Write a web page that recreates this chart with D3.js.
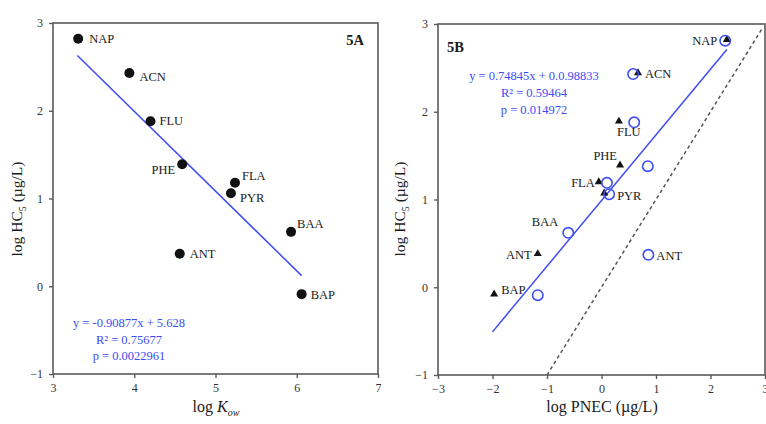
<!DOCTYPE html>
<html>
<head>
<meta charset="utf-8">
<script src="https://cdn.jsdelivr.net/npm/d3@7"></script>
<style>
  html, body { margin: 0; padding: 0; background: #fff; }
  svg { display: block; font-family: "Liberation Serif", "DejaVu Serif", serif; }
</style>
</head>
<body>
<div id="chart"></div>
<script>
// Panel 5A: log Kow vs log HC5
const namesA = ["NAP", "ACN", "FLU", "PHE", "FLA", "PYR", "BAA", "ANT", "BAP"];
const kowA   = [3.31, 3.94, 4.20, 4.59, 5.24, 5.19, 5.93, 4.56, 6.06];
const hc5A   = [2.82, 2.43, 1.88, 1.39, 1.18, 1.06, 0.62, 0.37, -0.09];
const fitA = { slope: -0.90877, intercept: 5.628, x0: 3.3, x1: 6.06 };
const eqA = ["y = -0.90877x + 5.628", "R² = 0.75677", "p = 0.0022961"];

// Panel 5B: log PNEC vs log HC5 (triangle hidden for BAA -> null)
const namesB  = ["NAP", "ACN", "FLU", "PHE", "FLA", "PYR", "BAA", "ANT", "BAP"];
const hc5B    = [2.81, 2.43, 1.88, 1.38, 1.19, 1.06, 0.62, 0.37, -0.09];
const triX    = [2.30, 0.67, 0.32, 0.34, -0.05, 0.05, null, -1.17, -1.97];
const circX   = [2.27, 0.58, 0.60, 0.85, 0.10, 0.14, -0.61, 0.86, -1.17];
const fitB = { slope: 0.74845, intercept: 0.98833, x0: -2.0, x1: 2.3 };
const eqB = ["y = 0.74845x + 0.0.98833", "R² = 0.59464", "p = 0.014972"];

const ticksA_x = [3, 4, 5, 6, 7];
const ticksB_x = [-3, -2, -1, 0, 1, 2, 3];
const ticksY = [-1, 0, 1, 2, 3];

const width = 766, height = 424;
const blue = "#3d4cf5";
const frameColor = "#5a5a5a";
const ink = "#1a1a1a";

const svg = d3.select("#chart").append("svg")
  .attr("width", width)
  .attr("height", height);

function panel(box, xDomain, xTicks) {
  const x = d3.scaleLinear().domain(xDomain).range([box.left, box.right]);
  const y = d3.scaleLinear().domain([-1, 3]).range([box.bottom, box.top]);
  const g = svg.append("g");

  g.append("rect")
    .attr("x", box.left).attr("y", box.top)
    .attr("width", box.right - box.left).attr("height", box.bottom - box.top)
    .attr("fill", "none").attr("stroke", frameColor).attr("stroke-width", 1.6);

  const ax = g.append("g")
    .attr("transform", `translate(0,${box.bottom})`)
    .call(d3.axisBottom(x).tickValues(xTicks).tickSize(4).tickPadding(5).tickFormat(d3.format("d")));
  const ay = g.append("g")
    .attr("transform", `translate(${box.left},0)`)
    .call(d3.axisLeft(y).tickValues(ticksY).tickSize(4).tickPadding(6).tickFormat(d3.format("d")));
  [ax, ay].forEach(a => {
    a.select(".domain").remove();
    a.selectAll("line").attr("stroke", frameColor).attr("stroke-width", 1.4);
    a.selectAll("text").attr("font-family", "Liberation Serif").attr("font-size", 12).attr("fill", "#333");
  });
  return { x, y, g };
}

// ---------- Panel A ----------
const A = panel({ left: 53, right: 378, top: 23, bottom: 374 }, [3, 7], ticksA_x);

A.g.append("line")
  .attr("x1", A.x(fitA.x0)).attr("y1", A.y(fitA.slope * fitA.x0 + fitA.intercept))
  .attr("x2", A.x(fitA.x1)).attr("y2", A.y(fitA.slope * fitA.x1 + fitA.intercept))
  .attr("stroke", blue).attr("stroke-width", 1.5);

A.g.selectAll("circle.pt")
  .data(namesA)
  .join("circle")
    .attr("class", "pt")
    .attr("cx", (d, i) => A.x(kowA[i]))
    .attr("cy", (d, i) => A.y(hc5A[i]))
    .attr("r", 5)
    .attr("fill", "#111");

// label offsets for panel A
const offA = {
  NAP: [11, 4, "start"], ACN: [10, 8, "start"], FLU: [9, 4, "start"],
  PHE: [-7, 10, "end"], FLA: [7, -3, "start"], PYR: [9, 9, "start"],
  BAA: [6, -4, "start"], ANT: [10, 4, "start"], BAP: [9, 5, "start"]
};
A.g.selectAll("text.lbl")
  .data(namesA)
  .join("text")
    .attr("class", "lbl")
    .attr("x", (d, i) => A.x(kowA[i]) + offA[d][0])
    .attr("y", (d, i) => A.y(hc5A[i]) + offA[d][1])
    .attr("text-anchor", d => offA[d][2])
    .attr("font-size", 12.5)
    .attr("fill", ink)
    .text(d => d);

A.g.append("text")
  .attr("x", 364).attr("y", 45).attr("text-anchor", "end")
  .attr("font-size", 14.5).attr("font-weight", "bold").attr("fill", ink)
  .text("5A");

A.g.selectAll("text.eq")
  .data(eqA)
  .join("text")
    .attr("class", "eq")
    .attr("x", 129)
    .attr("y", (d, i) => 327 + i * 16.5)
    .attr("text-anchor", "middle")
    .attr("font-size", 12.5)
    .attr("fill", blue)
    .text(d => d);

// axis titles A
svg.append("text")
  .attr("transform", "translate(22,209) rotate(-90)")
  .attr("text-anchor", "middle").attr("font-size", 15.5).attr("fill", ink)
  .call(t => {
    t.append("tspan").text("log HC");
    t.append("tspan").attr("font-size", 10).attr("dy", 4).text("5");
    t.append("tspan").attr("dy", -4).text(" (µg/L)");
  });
svg.append("text")
  .attr("x", 216).attr("y", 412)
  .attr("text-anchor", "middle").attr("font-size", 16).attr("fill", ink)
  .call(t => {
    t.append("tspan").text("log  ");
    t.append("tspan").attr("font-style", "italic").text("K");
    t.append("tspan").attr("font-style", "italic").attr("font-size", 10).attr("dy", 4).text("ow");
  });

// ---------- Panel B ----------
const B = panel({ left: 438, right: 765, top: 24, bottom: 375 }, [-3, 3], ticksB_x);

// 1:1 dashed line
B.g.append("line")
  .attr("x1", B.x(-1)).attr("y1", B.y(-1))
  .attr("x2", B.x(2.95)).attr("y2", B.y(2.95))
  .attr("stroke", "#555").attr("stroke-width", 1.5)
  .attr("stroke-dasharray", "3.5,3");

B.g.append("line")
  .attr("x1", B.x(fitB.x0)).attr("y1", B.y(fitB.slope * fitB.x0 + fitB.intercept))
  .attr("x2", B.x(fitB.x1)).attr("y2", B.y(fitB.slope * fitB.x1 + fitB.intercept))
  .attr("stroke", blue).attr("stroke-width", 1.5);

const triData = namesB.map((n, i) => ({ x: triX[i], y: hc5B[i] })).filter(d => d.x !== null);
B.g.selectAll("path.tri")
  .data(triData)
  .join("path")
    .attr("class", "tri")
    .attr("d", d3.symbol(d3.symbolTriangle, 28))
    .attr("transform", d => `translate(${B.x(d.x)},${B.y(d.y) - 1})`)
    .attr("fill", "#111");

B.g.selectAll("circle.pt")
  .data(namesB)
  .join("circle")
    .attr("class", "pt")
    .attr("cx", (d, i) => B.x(circX[i]))
    .attr("cy", (d, i) => B.y(hc5B[i]))
    .attr("r", 5.2)
    .attr("fill", "none")
    .attr("stroke", blue)
    .attr("stroke-width", 1.6);

// labels for panel B: [name, xValue, dx, dy, anchor]
const lblB = [
  ["NAP", 2.27, -8, 4, "end"],
  ["ACN", 0.67, 7, 4, "start"],
  ["FLU", 0.32, -2, 14, "start"],
  ["PHE", 0.34, -3, -6, "end"],
  ["FLA", -0.05, -4, 4, "end"],
  ["PYR", 0.14, 8, 6, "start"],
  ["BAA", -0.61, -10, -7, "end"],
  ["ANT", -1.17, -6, 4, "end"],
  ["ANT", 0.86, 8, 5, "start"],
  ["BAP", -1.97, 7, -1, "start"]
];
const hcByName = new Map(namesB.map((n, i) => [n, hc5B[i]]));
B.g.selectAll("text.lbl")
  .data(lblB)
  .join("text")
    .attr("class", "lbl")
    .attr("x", d => B.x(d[1]) + d[2])
    .attr("y", d => B.y(hcByName.get(d[0])) + d[3])
    .attr("text-anchor", d => d[4])
    .attr("font-size", 12.5)
    .attr("fill", ink)
    .text(d => d[0]);

B.g.append("text")
  .attr("x", 447).attr("y", 52)
  .attr("font-size", 14.5).attr("font-weight", "bold").attr("fill", ink)
  .text("5B");

B.g.selectAll("text.eq")
  .data(eqB)
  .join("text")
    .attr("class", "eq")
    .attr("x", 534)
    .attr("y", (d, i) => 80 + i * 17)
    .attr("text-anchor", "middle")
    .attr("font-size", 12.5)
    .attr("fill", blue)
    .text(d => d);

svg.append("text")
  .attr("transform", "translate(405,209) rotate(-90)")
  .attr("text-anchor", "middle").attr("font-size", 15.5).attr("fill", ink)
  .call(t => {
    t.append("tspan").text("log HC");
    t.append("tspan").attr("font-size", 10).attr("dy", 4).text("5");
    t.append("tspan").attr("dy", -4).text(" (µg/L)");
  });
svg.append("text")
  .attr("x", 602).attr("y", 412)
  .attr("text-anchor", "middle").attr("font-size", 16).attr("fill", ink)
  .text("log PNEC (µg/L)");
</script>
</body>
</html>
